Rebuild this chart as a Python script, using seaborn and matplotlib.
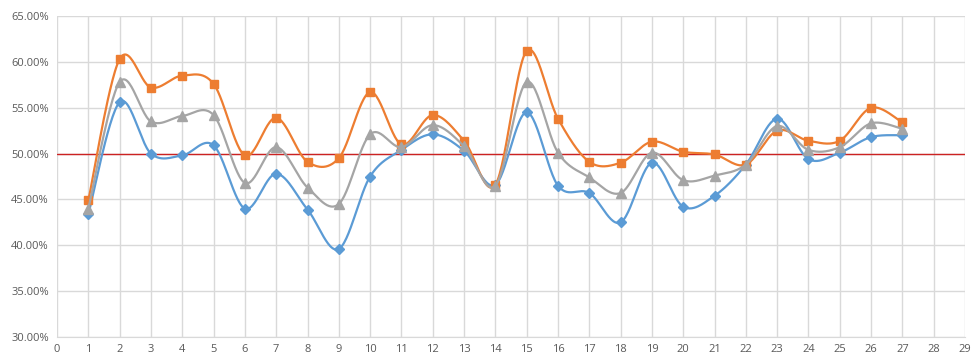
import numpy as np
import seaborn as sns
import matplotlib.pyplot as plt
from matplotlib.ticker import FuncFormatter, MultipleLocator

# values (percent)
x_vals = list(range(1, 28))
blue = [43.4, 55.6, 50.0, 49.8, 50.9, 44.0, 47.8, 43.9, 39.6, 47.5,
        50.4, 52.1, 50.3, 46.6, 54.5, 46.5, 45.7, 42.5, 49.0, 44.2,
        45.4, 48.8, 53.8, 49.4, 50.1, 51.8, 52.0]
orange = [44.9, 60.3, 57.2, 58.5, 57.6, 49.8, 53.9, 49.1, 49.5, 56.7,
          51.0, 54.2, 51.4, 46.6, 61.2, 53.8, 49.1, 49.0, 51.3, 50.2,
          49.9, 48.8, 52.5, 51.4, 51.4, 55.0, 53.4]
gray = [44.0, 57.8, 53.5, 54.1, 54.2, 46.8, 50.7, 46.3, 44.5, 52.1,
        50.7, 53.1, 50.8, 46.5, 57.8, 50.1, 47.4, 45.7, 50.1, 47.1,
        47.6, 48.8, 53.0, 50.4, 50.7, 53.3, 52.7]
threshold = 50.0


def smooth(xs, ys, n=30):
    # excel-ish smoothed line: cubic bezier through the points
    xs = np.asarray(xs, float)
    ys = np.asarray(ys, float)
    px = np.concatenate([[xs[0]], xs, [xs[-1]]])
    py = np.concatenate([[ys[0]], ys, [ys[-1]]])
    t = np.linspace(0, 1, n)[:, None]
    out_x, out_y = [], []
    for i in range(1, len(px) - 2):
        p0 = np.array([px[i], py[i]])
        p3 = np.array([px[i + 1], py[i + 1]])
        p1 = p0 + (p3 - np.array([px[i - 1], py[i - 1]])) / 6
        p2 = p3 - (np.array([px[i + 2], py[i + 2]]) - p0) / 6
        pts = ((1 - t) ** 3) * p0 + 3 * ((1 - t) ** 2) * t * p1 \
            + 3 * (1 - t) * t ** 2 * p2 + t ** 3 * p3
        out_x.extend(pts[:, 0])
        out_y.extend(pts[:, 1])
    return np.array(out_x), np.array(out_y)


sns.set_style("white")
plt.rcParams['font.family'] = ['Open Sans', 'DejaVu Sans']

fig = plt.figure(figsize=(9.73, 3.64), dpi=100)
ax = fig.add_axes([0.0586, 0.0742, 0.9332, 0.8818])

ax.axhline(threshold, color="#CC2222", lw=1.0, zorder=2)

series = [(blue, "#5B9BD5", "D", 5.5), (orange, "#ED7D31", "s", 5.5), (gray, "#A5A5A5", "^", 6.5)]
for i, (vals, col, mk, ms) in enumerate(series):
    sx, sy = smooth(x_vals, vals)
    sns.lineplot(x=sx, y=sy, ax=ax, color=col, lw=1.6, sort=False, zorder=3 + i)
    ax.plot(x_vals, vals, ls="none", marker=mk, ms=ms, color=col, zorder=3 + i)

ax.set_xlim(0, 29)
ax.set_ylim(30, 65)
ax.xaxis.set_major_locator(MultipleLocator(1))
ax.yaxis.set_major_locator(MultipleLocator(5))
ax.yaxis.set_major_formatter(FuncFormatter(lambda v, p: f"{v:.2f}%"))
ax.grid(True, color="#D9D9D9", lw=1)
ax.set_axisbelow(True)
for s in ["top", "right", "left"]:
    ax.spines[s].set_visible(False)
ax.spines["bottom"].set_color("#D9D9D9")
ax.tick_params(axis="both", labelsize=8, colors="#595959", length=0, pad=6)
ax.tick_params(axis="x", pad=5)

fig.savefig("out.png", dpi=100)
